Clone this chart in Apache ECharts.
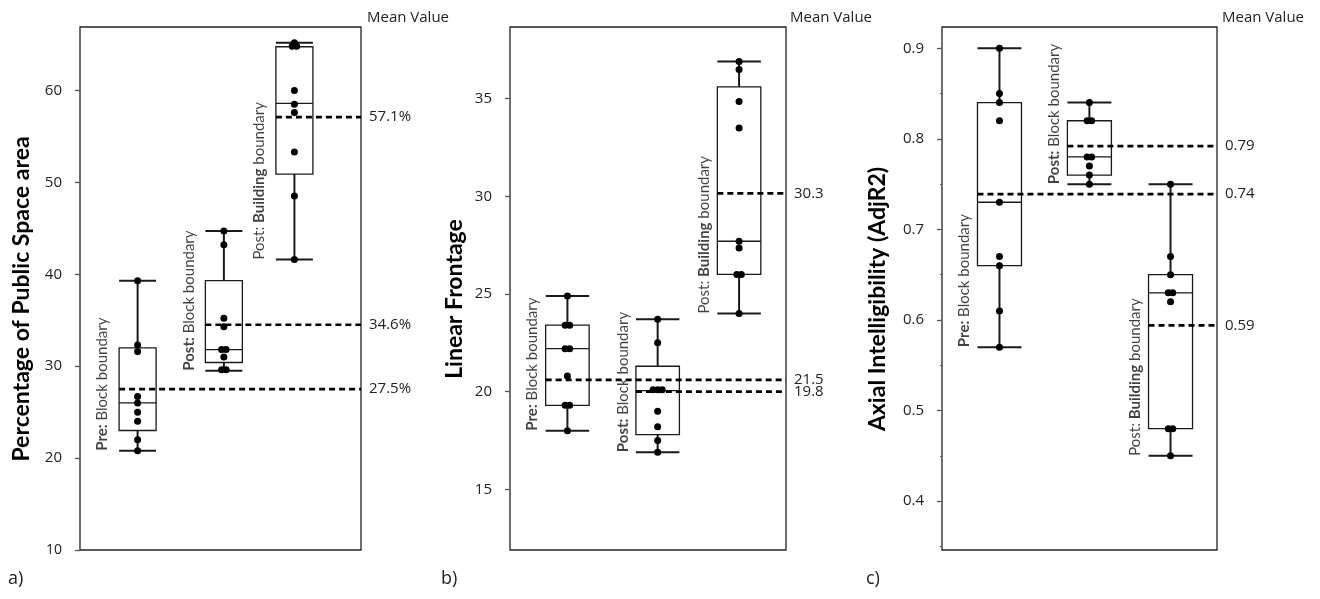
<!DOCTYPE html>
<html>
<head>
<meta charset="utf-8">
<script src="https://cdn.jsdelivr.net/npm/echarts@6/dist/echarts.min.js"></script>
<style>
  html, body { margin: 0; padding: 0; background: #fff; }
  #main { width: 1320px; height: 599px; }
</style>
</head>
<body>
<div id="main"></div>
<script>
  // group names, rich markup marks the bold part
  var groupLabels = ['{b|Pre:} Block boundary', '{b|Post:} Block boundary', 'Post: {b|Building} boundary'];

  // a) percentage of public space area  [min, Q1, median, Q3, max]
  var spaceBoxes = [[20.8, 23.0, 26.0, 32.0, 39.3], [29.5, 30.4, 31.8, 39.3, 44.7], [41.6, 50.9, 58.6, 64.75, 65.2]];
  var spacePoints = [
    [39.3, 32.3, 31.6, 26.7, 26.0, 25.0, 24.0, 22.0, 20.8],
    [44.7, 43.2, 35.2, 34.3, 31.8, 31.8, 31.0, 29.6, 29.6],
    [65.2, 64.8, 64.8, 60.0, 58.5, 57.6, 53.3, 48.5, 41.6]
  ];
  var spaceMeans = [27.5, 34.5, 57.1];
  var spaceMeanLabels = ['27.5%', '34.6%', '57.1%'];
  var spaceTicks = [10, 20, 30, 40, 50, 60];

  // b) linear frontage
  var frontBoxes = [[18.0, 19.3, 22.2, 23.4, 24.9], [16.9, 17.8, 20.05, 21.3, 23.7], [24.0, 26.0, 27.7, 35.6, 36.9]];
  var frontPoints = [
    [24.9, 23.4, 23.4, 22.2, 22.2, 20.8, 19.3, 19.3, 18.0],
    [23.7, 22.5, 20.1, 20.1, 20.1, 19.0, 18.2, 17.5, 16.9],
    [36.9, 36.5, 34.85, 33.5, 27.7, 27.35, 26.0, 26.0, 24.0]
  ];
  var frontMeans = [20.6, 20.0, 30.15];
  var frontMeanLabels = ['21.5', '19.8', '30.3'];
  var frontTicks = [15, 20, 25, 30, 35];

  // c) axial intelligibility
  var axialBoxes = [[0.57, 0.66, 0.73, 0.84, 0.90], [0.75, 0.76, 0.78, 0.82, 0.84], [0.45, 0.48, 0.63, 0.65, 0.75]];
  var axialPoints = [
    [0.90, 0.85, 0.84, 0.82, 0.73, 0.67, 0.66, 0.61, 0.57],
    [0.84, 0.82, 0.82, 0.78, 0.78, 0.77, 0.76, 0.75],
    [0.75, 0.67, 0.65, 0.63, 0.63, 0.62, 0.48, 0.48, 0.45]
  ];
  var axialMeans = [0.739, 0.792, 0.594];
  var axialMeanLabels = ['0.74', '0.79', '0.59'];
  var axialTicks = [0.4, 0.5, 0.6, 0.7, 0.8, 0.9];
  var axialMinorTicks = [0.35, 0.45, 0.55, 0.65, 0.75, 0.85];

  var panels = [
    { left: 80, width: 281, min: 10, max: 66.9, ticks: spaceTicks, boxes: spaceBoxes, points: spacePoints,
      means: spaceMeans, meanLabels: spaceMeanLabels, pos: [2.05, 5.12, 7.63], boxW: 37,
      title: 'Percentage of Public Space area', titleX: 22, tag: 'a)', tagX: 8, meanX: 367 },
    { left: 510, width: 276, min: 11.89, max: 38.67, ticks: frontTicks, boxes: frontBoxes, points: frontPoints,
      means: frontMeans, meanLabels: frontMeanLabels, pos: [2.08, 5.35, 8.3], boxW: 43.5,
      title: 'Linear Frontage', titleX: 455, tag: 'b)', tagX: 441, meanX: 790 },
    { left: 942, width: 275, min: 0.346, max: 0.9235, ticks: axialTicks, boxes: axialBoxes, points: axialPoints,
      means: axialMeans, meanLabels: axialMeanLabels, pos: [2.09, 5.36, 8.31], boxW: 44,
      title: 'Axial Intelligibility (AdjR2)', titleX: 878, tag: 'c)', tagX: 866, meanX: 1222 }
  ];

  var TOP = 27, HEIGHT = 523;
  var ink = '#1a1a1a';

  var makeBox = function(boxW) {
    return function(params, api) {
      var x = api.value(0);
      var pMin = api.coord([x, api.value(1)]);
      var pQ1 = api.coord([x, api.value(2)]);
      var pMed = api.coord([x, api.value(3)]);
      var pQ3 = api.coord([x, api.value(4)]);
      var pMax = api.coord([x, api.value(5)]);
      var cx = pMin[0], hw = boxW / 2;
      var thin = { stroke: ink, lineWidth: 1.3, fill: null };
      var thick = { stroke: ink, lineWidth: 2, fill: null };
      return {
        type: 'group',
        children: [
          { type: 'line', shape: { x1: cx, y1: pMax[1], x2: cx, y2: pQ3[1] }, style: thick },
          { type: 'line', shape: { x1: cx, y1: pQ1[1], x2: cx, y2: pMin[1] }, style: thick },
          { type: 'line', shape: { x1: cx - hw, y1: pMax[1], x2: cx + hw, y2: pMax[1] }, style: thick },
          { type: 'line', shape: { x1: cx - hw, y1: pMin[1], x2: cx + hw, y2: pMin[1] }, style: thick },
          { type: 'rect', shape: { x: cx - hw, y: pQ3[1], width: boxW, height: pQ1[1] - pQ3[1] },
            style: { stroke: ink, lineWidth: 1.3, fill: '#fff' } },
          { type: 'line', shape: { x1: cx - hw, y1: pMed[1], x2: cx + hw, y2: pMed[1] }, style: thin }
        ]
      };
    };
  };

  // side by side placement of equal values
  var spread = function(values, x, step) {
    var out = [];
    var i = 0;
    while (i < values.length) {
      var j = i;
      while (j < values.length && values[j] === values[i]) j++;
      var n = j - i;
      for (var k = 0; k < n; k++) {
        out.push([x + (k - (n - 1) / 2) * step, values[i]]);
      }
      i = j;
    }
    return out;
  };

  var series = [];
  var graphic = [];
  panels.forEach(function(p, i) {
    var unit = 10 / p.width; // axis units per pixel
    series.push({
      type: 'custom', xAxisIndex: i, yAxisIndex: i, z: 2,
      renderItem: makeBox(p.boxW),
      data: p.boxes.map(function(b, k) { return [p.pos[k]].concat(b); }),
      silent: true
    });
    p.means.forEach(function(m, k) {
      series.push({
        type: 'line', xAxisIndex: i, yAxisIndex: i, z: 3,
        symbol: 'none', silent: true,
        lineStyle: { color: '#000', width: 2.6, type: [6, 4] },
        data: [[p.pos[k] - p.boxW / 2 * unit, m], [10, m]],
        endLabel: {
          show: true, distance: 8,
          formatter: p.meanLabels[k],
          fontFamily: 'Open Sans', fontSize: 15, color: '#222'
        }
      });
    });
    var pts = [];
    p.points.forEach(function(vals, k) {
      pts = pts.concat(spread(vals, p.pos[k], 4.5 * unit));
    });
    series.push({
      type: 'scatter', xAxisIndex: i, yAxisIndex: i, z: 4, silent: true,
      symbolSize: 7, itemStyle: { color: '#000', opacity: 1 },
      data: pts
    });
    series.push({
      type: 'scatter', xAxisIndex: i, yAxisIndex: i, z: 5, silent: true,
      symbolSize: 0.1, itemStyle: { color: 'rgba(0,0,0,0)' },
      data: p.boxes.map(function(b, k) { return [p.pos[k] - 35 * unit, b[0]]; }),
      label: {
        show: true, position: 'inside', rotate: 90, align: 'left', verticalAlign: 'middle',
        formatter: function(prm) { return groupLabels[prm.dataIndex]; },
        fontFamily: 'Lato', fontSize: 15, color: '#111',
        rich: { b: { fontFamily: 'Lato', fontSize: 15, fontWeight: 'bold', color: '#111' } }
      }
    });
    graphic.push({
      type: 'text', x: p.titleX, y: 299, rotation: Math.PI / 2,
      style: { text: p.title, font: 'bold 23px Lato', fill: '#000', align: 'center', verticalAlign: 'middle' }
    });
    graphic.push({
      type: 'text', x: p.meanX, y: 18,
      style: { text: 'Mean Value', font: '15px "Open Sans"', fill: '#222', align: 'left', verticalAlign: 'middle' }
    });
    graphic.push({
      type: 'text', x: p.tagX, y: 579,
      style: { text: p.tag, font: '18px "Open Sans"', fill: '#222', align: 'left', verticalAlign: 'middle' }
    });
  });

  var yAxes = panels.map(function(p, i) {
    return {
      type: 'value', gridIndex: i, min: p.min, max: p.max, position: 'left',
      axisLine: { show: false }, splitLine: { show: false },
      axisTick: { show: true, length: 5, customValues: p.ticks, lineStyle: { color: '#555', width: 1.3 } },
      axisLabel: {
        customValues: p.ticks, margin: 18, fontFamily: 'Open Sans', fontSize: 15, color: '#222',
        formatter: function(v) { return v === 10 ? '{s|10}' : String(v); },
        rich: { s: { fontFamily: 'Open Sans', fontSize: 14, color: '#222' } }
      }
    };
  });
  yAxes.push({
    type: 'value', gridIndex: 2, min: panels[2].min, max: panels[2].max, position: 'left', offset: 0,
    axisLine: { show: false }, splitLine: { show: false }, axisLabel: { show: false },
    axisTick: { show: true, length: 2, customValues: axialMinorTicks, lineStyle: { color: '#555', width: 1 } }
  });

  var myChart = echarts.init(document.getElementById('main'));
  var option = {
    animation: false,
    backgroundColor: '#fff',
    grid: panels.map(function(p) {
      return { left: p.left, top: TOP, width: p.width, height: HEIGHT, show: true,
        borderColor: '#222', borderWidth: 1.3, backgroundColor: 'transparent' };
    }),
    xAxis: panels.map(function(p, i) {
      return { type: 'value', gridIndex: i, min: 0, max: 10, show: false };
    }),
    yAxis: yAxes,
    series: series,
    graphic: graphic
  };
  myChart.setOption(option);
</script>
</body>
</html>
